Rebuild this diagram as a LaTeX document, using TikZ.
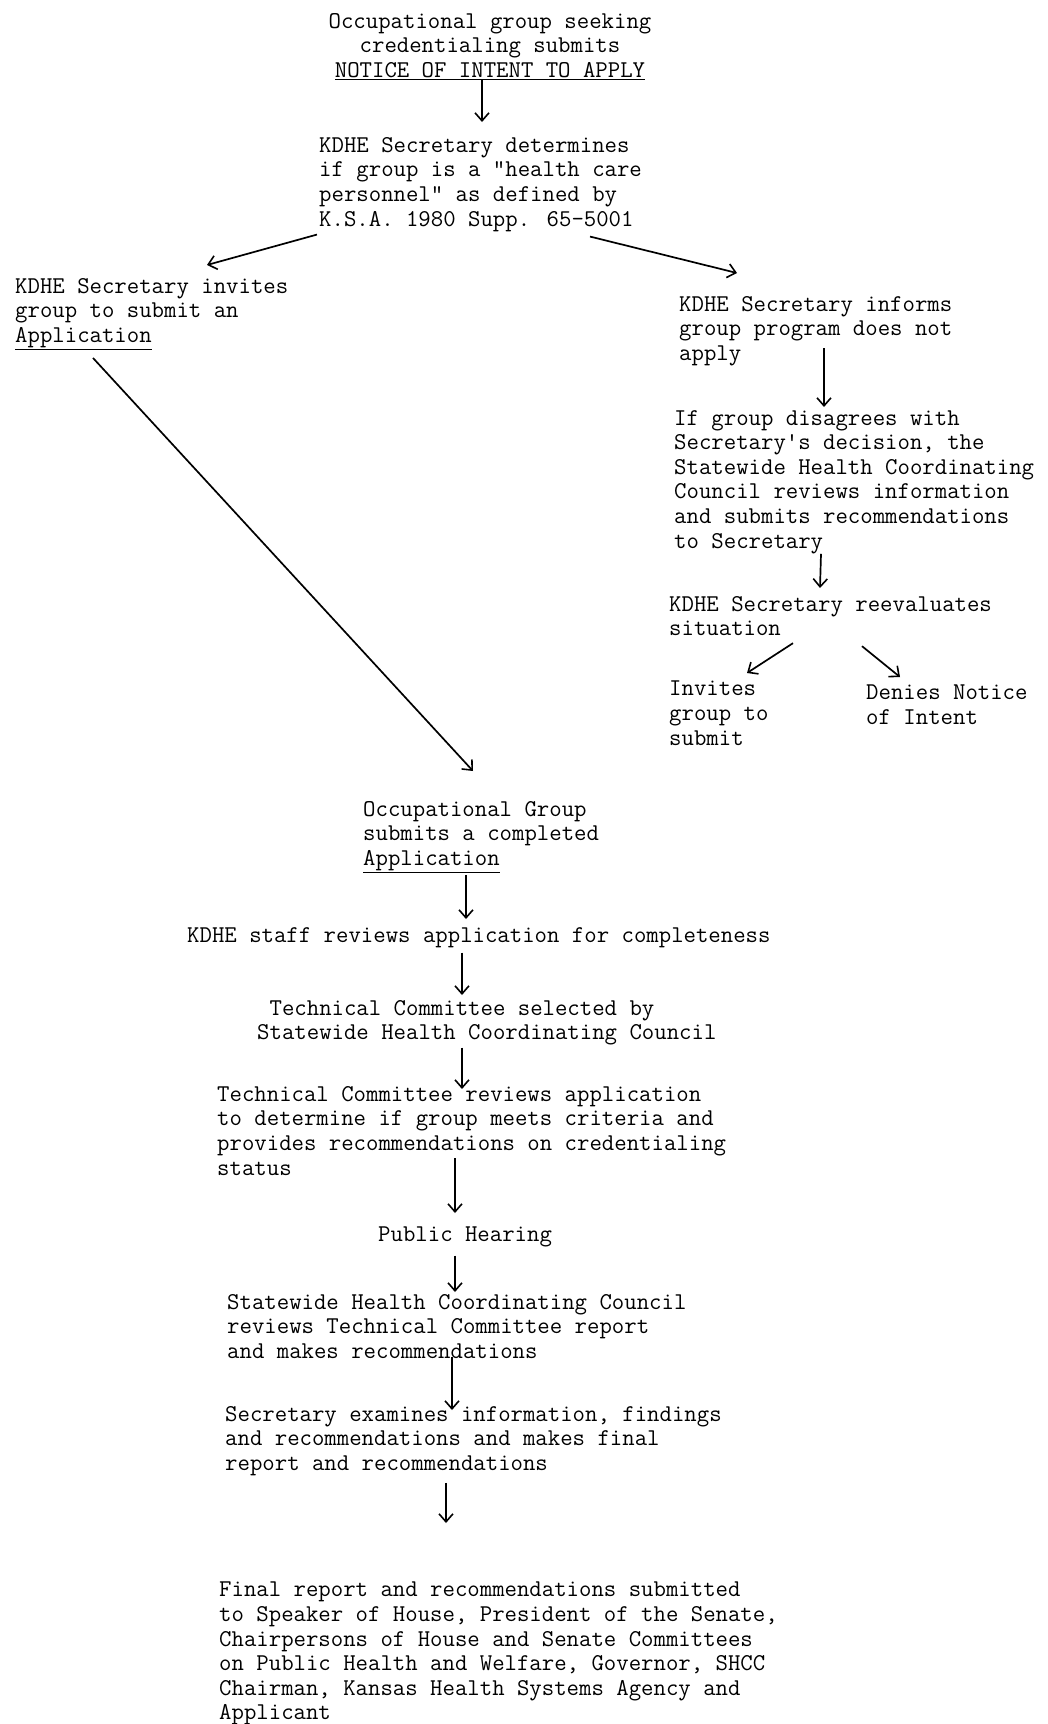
\documentclass[tikz,border=0pt]{standalone}
\usepackage{tikz}
\usetikzlibrary{arrows.meta}

\begin{document}
\begin{tikzpicture}[x=1pt,y=-1pt,
    txt/.style={anchor=north west, inner sep=0pt, align=left,
        font=\fontsize{24.1}{24.6}\selectfont\ttfamily},
    arr/.style={line width=1.7pt, -{Straight Barb[length=8pt,width=14pt,line width=1.6pt]}}]
    \useasboundingbox (0,0) rectangle (1047,1724);

    \node (notice) at (490,13) [txt, anchor=north, align=center] {Occupational group seeking\\credentialing submits\\\underline{NOTICE OF INTENT TO APPLY}};
    \node (determ) at (319,137) [txt] {KDHE Secretary determines\\if group is a "health care\\personnel" as defined by\\K.S.A. 1980 Supp. 65-5001};
    \node (invite) at (15,278) [txt] {KDHE Secretary invites\\group to submit an\\\underline{Application}};
    \node (informs) at (679,296) [txt] {KDHE Secretary informs\\group program does not\\apply};
    \node (disagree) at (674,410) [txt] {If group disagrees with\\Secretary\textquotesingle s decision, the\\Statewide Health Coordinating\\Council reviews information\\and submits recommendations\\to Secretary};
    \node (reeval) at (669,596) [txt] {KDHE Secretary reevaluates\\situation};
    \node (invsub) at (669,681) [txt] {Invites\\group to\\submit};
    \node (denies) at (866,685) [txt] {Denies Notice\\of Intent};
    \node (occapp) at (363,801) [txt] {Occupational Group\\submits a completed\\\underline{Application}};
    \node (staff) at (187,927) [txt] {KDHE staff reviews application for completeness};
    \node (techsel) at (257,1000) [txt] {~Technical Committee selected by\\Statewide Health Coordinating Council};
    \node (techrev) at (217,1086) [txt] {Technical Committee reviews application\\to determine if group meets criteria and\\provides recommendations on credentialing\\status};
    \node (hearing) at (378,1227) [txt] {Public Hearing};
    \node (shccrev) at (227,1294) [txt] {Statewide Health Coordinating Council\\reviews Technical Committee report\\and makes recommendations};
    \node (secexam) at (225,1406) [txt] {Secretary examines information, findings\\and recommendations and makes final\\report and recommendations};
    \node (final) at (219,1582) [txt] {Final report and recommendations submitted\\to Speaker of House, President of the Senate,\\Chairpersons of House and Senate Committees\\on Public Health and Welfare, Governor, SHCC\\Chairman, Kansas Health Systems Agency and\\Applicant};

    % notice of intent and its two outcomes
    \draw[arr, shorten >=15pt] ([xshift=-8pt]notice.south) -- ([xshift=-8pt]notice.south |- determ.north);
    \draw[arr] ([shift={(-2,3)}]determ.south west) -- ([shift={(192,-13)}]invite.north west);
    \draw[arr] ([shift={(271,5)}]determ.south west) -- ([shift={(58,-23)}]informs.north west);

    % right branch
    \draw[arr] ([shift={(145,52)}]informs.north west) -- ([shift={(150,-3)}]disagree.north west);
    \draw[arr] ([shift={(147,0)}]disagree.south west) -- ([shift={(151,-8)}]reeval.north west);
    \draw[arr] ([shift={(124,7)}]reeval.south west) -- ([shift={(78,-8)}]invsub.north west);
    \draw[arr] ([shift={(193,10)}]reeval.south west) -- ([shift={(34,-8)}]denies.north west);

    % main line
    \draw[arr] ([shift={(78,8)}]invite.south west) -- ([shift={(110,-30)}]occapp.north west);
    \draw[arr] ([shift={(103,2)}]occapp.south west) -- ([shift={(279,-8)}]staff.north west);
    \draw[arr] ([shift={(275,5)}]staff.south west) -- ([shift={(205,-5)}]techsel.north west);
    \draw[arr] ([shift={(205,2)}]techsel.south west) -- ([shift={(245,3)}]techrev.north west);
    \draw[arr] ([shift={(238,72)}]techrev.north west) -- ([shift={(77,-14)}]hearing.north west);
    \draw[arr] ([shift={(77,8)}]hearing.south west) -- ([shift={(228,-2)}]shccrev.north west);
    \draw[arr] ([shift={(225,-2)}]shccrev.south west) -- ([shift={(227,4)}]secexam.north west);
    \draw[arr] ([shift={(221,7)}]secexam.south west) -- ([shift={(227,-59)}]final.north west);
\end{tikzpicture}
\end{document}
